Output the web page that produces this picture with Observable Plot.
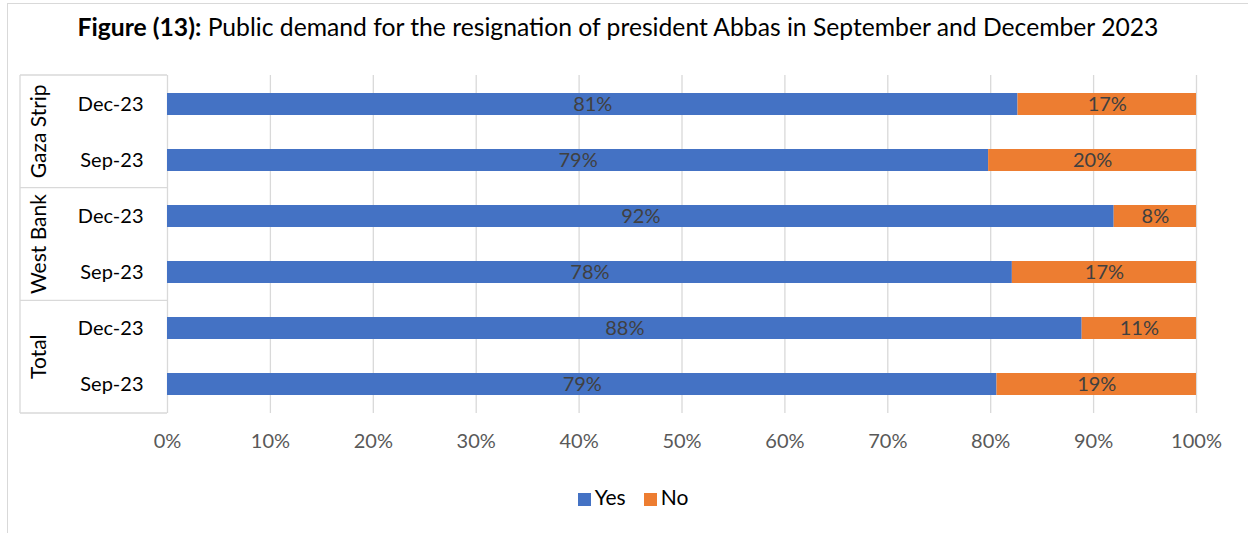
<!DOCTYPE html>
<html>
<head>
<meta charset="utf-8">
<script src="https://cdn.jsdelivr.net/npm/d3@7"></script>
<script src="https://cdn.jsdelivr.net/npm/@observablehq/plot@0.6"></script>
<style>
  html, body { margin: 0; padding: 0; background: #fff; }
  #wrap { position: relative; width: 1248px; height: 533px; overflow: hidden; font-family: Lato, "Open Sans", sans-serif; }
  #frame { position: absolute; left: 7px; top: 3px; width: 1300px; height: 600px; border-left: 1px solid #d9d9d9; border-top: 1px solid #d9d9d9; }
  #title { position: absolute; left: 0; width: 1236px; top: 10px; text-align: center; font-size: 24.7px; color: #000; line-height: 34px; white-space: nowrap; }
  #title b { font-weight: bold; }
  #legend { position: absolute; left: 0; width: 1266px; top: 483px; text-align: center; font-size: 21px; color: #000; line-height: 28px; }
  #legend span.item { display: inline-block; margin: 0 9px; }
  #legend span.sw { display: inline-block; width: 13px; height: 13px; margin-right: 4px; vertical-align: -1px; }
  #chart { position: absolute; left: 0; top: 0; }
</style>
</head>
<body>
<div id="wrap">
  <div id="frame"></div>
  <div id="chart"></div>
  <div id="title"><b>Figure (13):</b> Public demand for the resignation of president Abbas in September and December 2023</div>
  <div id="legend"></div>
</div>
<script>
const groups  = ["Gaza Strip", "Gaza Strip", "West Bank", "West Bank", "Total", "Total"];
const periods = ["Dec-23", "Sep-23", "Dec-23", "Sep-23", "Dec-23", "Sep-23"];
const yesValues = [81, 79, 92, 78, 88, 79];
const noValues  = [17, 20, 8, 17, 11, 19];
const answers = ["Yes", "No"];
const colors  = ["#4472C4", "#ED7D31"];
const xTickValues = [0, 0.1, 0.2, 0.3, 0.4, 0.5, 0.6, 0.7, 0.8, 0.9, 1];
const groupNames = ["Gaza Strip", "West Bank", "Total"];

const keys = groups.map((g, i) => g + "|" + periods[i]);
const data = [];
keys.forEach((k, i) => {
  data.push({key: k, group: groups[i], period: periods[i], answer: "Yes", value: yesValues[i]});
  data.push({key: k, group: groups[i], period: periods[i], answer: "No", value: noValues[i]});
});

const W = 1248, H = 533;
const mTop = 75, mBottom = 120, mLeft = 167, mRight = 52;

function groupBracket(index, scales, values, dimensions) {
  const g = d3.create("svg:g");
  const top = dimensions.marginTop;
  const bottom = dimensions.height - dimensions.marginBottom;
  const x0 = dimensions.marginLeft - 147;
  const x1 = dimensions.marginLeft;
  const n = groupNames.length;
  const step = (bottom - top) / n;
  for (let k = 0; k <= n; k++) {
    g.append("line").attr("x1", x0).attr("x2", x1)
      .attr("y1", top + k * step).attr("y2", top + k * step)
      .attr("stroke", "#d9d9d9").attr("stroke-width", 1.3);
  }
  g.append("line").attr("x1", x0).attr("x2", x0).attr("y1", top).attr("y2", bottom)
    .attr("stroke", "#d9d9d9").attr("stroke-width", 1.3);
  groupNames.forEach((name, k) => {
    const cy = top + (k + 0.5) * step;
    g.append("text")
      .attr("transform", `translate(${x0 + 17},${cy}) rotate(-90)`)
      .attr("text-anchor", "middle")
      .attr("dominant-baseline", "central")
      .attr("font-size", 21)
      .attr("fill", "#000")
      .text(name);
  });
  return g.node();
}

const plot = Plot.plot({
  width: W,
  height: H,
  marginTop: mTop,
  marginBottom: mBottom,
  marginLeft: mLeft,
  marginRight: mRight,
  style: {fontFamily: "Lato, 'Open Sans', sans-serif", background: "transparent"},
  x: {domain: [0, 1]},
  y: {domain: keys, paddingInner: 0.61, paddingOuter: 0.305},
  color: {domain: answers, range: colors},
  marks: [
    Plot.ruleX(xTickValues, {stroke: "#d9d9d9", strokeWidth: 1.3}),
    Plot.barX(data, Plot.stackX({offset: "normalize", x: "value", y: "key", fill: "answer", z: "answer"})),
    Plot.text(data, Plot.stackX({offset: "normalize", x: "value", y: "key", z: "answer",
      text: d => d.value + "%", fill: "#404040", fontSize: 20})),
    Plot.axisY({tickFormat: k => k.split("|")[1], tickSize: 0, tickPadding: 24, fontSize: 20, color: "#000", label: null}),
    Plot.axisX({ticks: xTickValues, tickFormat: d3.format(".0%"), tickSize: 0, tickPadding: 20, fontSize: 20, color: "#595959", label: null}),
    groupBracket
  ]
});
document.getElementById("chart").appendChild(plot);

const legend = document.getElementById("legend");
answers.forEach((a, i) => {
  const item = document.createElement("span");
  item.className = "item";
  const sw = document.createElement("span");
  sw.className = "sw";
  sw.style.background = colors[i];
  item.appendChild(sw);
  item.appendChild(document.createTextNode(a));
  legend.appendChild(item);
});
</script>
</body>
</html>
